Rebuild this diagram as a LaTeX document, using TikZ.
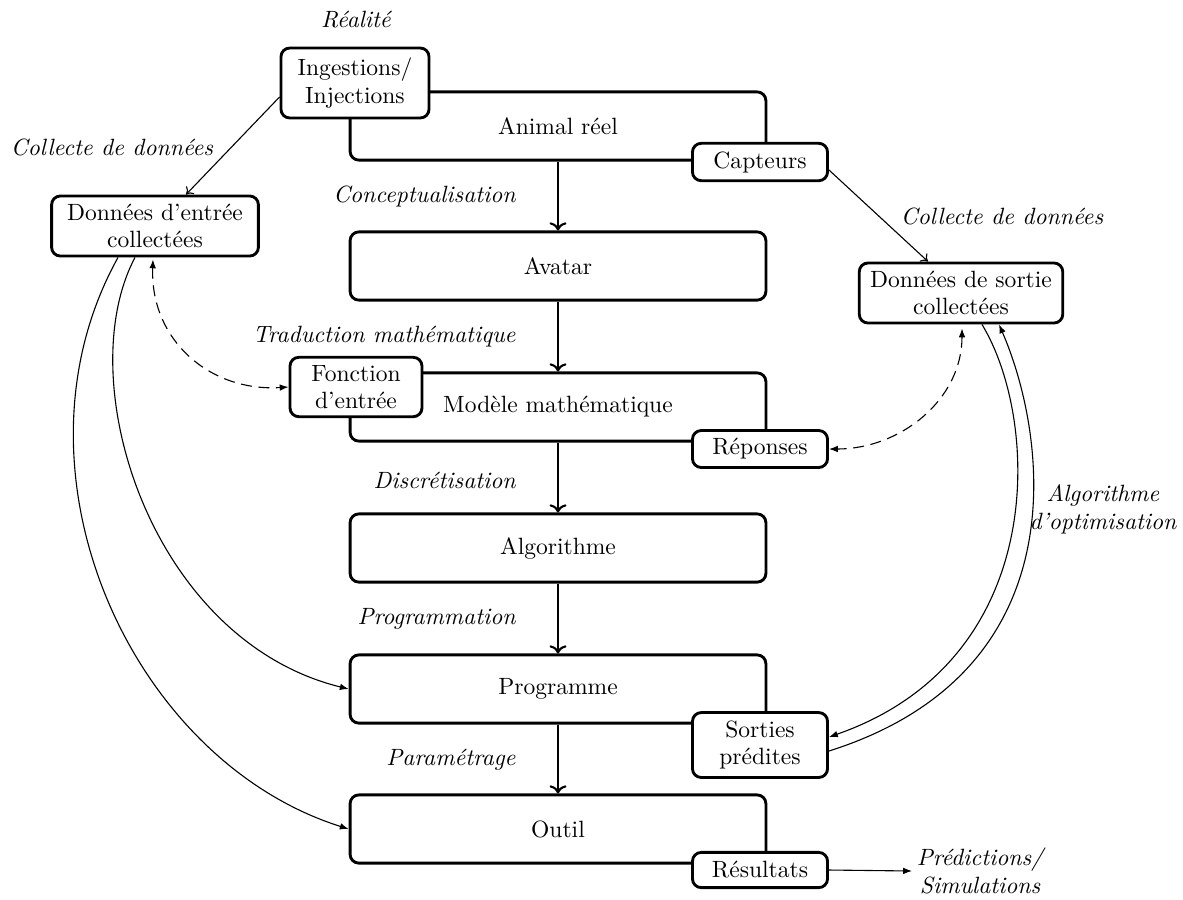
\documentclass[tikz,border=0pt]{standalone}
\usepackage{fontspec}
\usetikzlibrary{arrows.meta,calc}
\newcommand\dsize{\fontsize{10.7pt}{12.6pt}\selectfont}
\begin{document}
\begin{tikzpicture}[x=0.4545pt,y=-0.4545pt,font=\dsize,
  bigbox/.style={draw,line width=1.3pt,rounded corners=4pt,minimum width=189pt,minimum height=31pt,inner sep=0pt},
  smallbox/.style={draw,fill=white,line width=1.3pt,rounded corners=4pt,align=center,inner sep=0pt},
  lbl/.style={font=\dsize\itshape,inner sep=0pt},
  flow/.style={line width=0.95pt,-{To}},
  thinarrow/.style={line width=0.5pt,-{To[length=3pt,width=5pt]}},
  dasharrow/.style={line width=0.5pt,dash pattern=on 5pt off 3pt,{Latex[length=4pt,width=3pt]}-{Latex[length=4pt,width=3pt]}},
  optarrow/.style={line width=0.5pt,-{Latex[length=4pt,width=3pt]}}]
\useasboundingbox (0,0) rectangle (1183,899);

% big boxes
\node[bigbox] (animal) at (558,126) {Animal réel};
\node[bigbox] (avatar) at (558,266) {Avatar};
\node[bigbox] (modele) at (558,407) {Modèle mathématique};
\node[bigbox] (algo) at (558,548) {Algorithme};
\node[bigbox] (prog) at (558,689) {Programme};
\node[bigbox] (outil) at (558,829) {Outil};

% small boxes
\node[smallbox,minimum width=67.3pt,minimum height=31.8pt] (ing) at (355,83) {Ingestions/\\Injections};
\node[smallbox,minimum width=61.4pt,minimum height=17pt] (cap) at (760,162) {Capteurs};
\node[smallbox,minimum width=94pt,minimum height=27.3pt] (dec) at (155,226) {Données d'entrée\\collectées};
\node[smallbox,minimum width=92.5pt,minimum height=27.3pt] (dsc) at (961,293) {Données de sortie\\collectées};
\node[smallbox,minimum width=60pt,minimum height=27pt] (fon) at (356,387) {Fonction\\d'entrée};
\node[smallbox,minimum width=61.4pt,minimum height=16.8pt] (rep) at (760,449) {Réponses};
\node[smallbox,minimum width=61.4pt,minimum height=29.5pt] (sor) at (760,745) {Sorties\\prédites};
\node[smallbox,minimum width=61.4pt,minimum height=16pt] (res) at (760,870) {Résultats};

% labels
\node[lbl] (l0) at (356,20) {Réalité};
\node[lbl] (l1) at (112,147) {Collecte de données};
\node[lbl] (l2) at (1002,216) {Collecte de données};
\node[lbl,anchor=east] (l3) at (516,196) {Conceptualisation};
\node[lbl,anchor=east] (l4) at (516,337) {Traduction mathématique};
\node[lbl,anchor=east] (l5) at (516,480) {Discrétisation};
\node[lbl,anchor=east] (l6) at (516,619) {Programmation};
\node[lbl,anchor=east] (l7) at (516,760) {Paramétrage};
\node[lbl,align=center] (l8) at (1103,509) {Algorithme\\d'optimisation};
\node[lbl,align=center,anchor=west,inner sep=2pt] (pred) at (912,871) {Prédictions/\\Simulations};

% main flow
\draw[flow] (animal.south) -- (avatar.north);
\draw[flow] (avatar.south) -- (modele.north);
\draw[flow] (modele.south) -- (algo.north);
\draw[flow] (algo.south) -- (prog.north);
\draw[flow] (prog.south) -- (outil.north);

% data collection
\draw[thinarrow] ($(ing.west)+(0,14)$) -- ($(dec.north)+(31,0)$);
\draw[thinarrow] ($(cap.east)+(0,8)$) -- ($(dsc.north)+(-33,0)$);

% dashed links
\draw[dasharrow] ($(dec.south)+(-2,2)$) .. controls (150,340) and (210,392) .. (fon.west);
\draw[dasharrow] ($(dsc.south)+(1,4)$) .. controls (962,400) and (900,449) .. (rep.east);

% left curves
\draw[optarrow] ($(dec.south)+(-37,0)$) .. controls (0,470) and (130,760) .. (outil.west);
\draw[optarrow] ($(dec.south)+(-20,0)$) .. controls (70,380) and (150,640) .. (prog.west);

% right curves
\draw[optarrow] ($(dsc.south)+(21,0)$) .. controls (1040,420) and (1050,660) .. ($(sor.east)+(0,-8)$);
\draw[optarrow] ($(sor.east)+(0,6)$) .. controls (1085,670) and (1045,430) .. ($(dsc.south)+(38,0)$);

% results
\draw[optarrow] (res.east) -- (pred.west);
\end{tikzpicture}
\end{document}
